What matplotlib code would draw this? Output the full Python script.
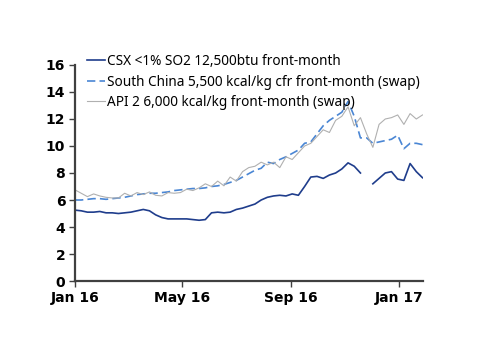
import pandas as pd
import numpy as np
import matplotlib
matplotlib.use("Agg")
import matplotlib.pyplot as plt
import matplotlib.dates as mdates

# weekly observations, Jan 2016 - end Jan 2017 (USD/mmbtu)
dates = pd.date_range("2016-01-01", periods=57, freq="7D")

csx = [5.25, 5.2, 5.1, 5.1, 5.15, 5.05, 5.05, 5.0, 5.05, 5.1,
       5.2, 5.3, 5.2, 4.9, 4.7, 4.6, 4.6, 4.6, 4.6, 4.55,
       4.5, 4.55, 5.05, 5.1, 5.05, 5.1, 5.3, 5.4, 5.55, 5.7,
       6.0, 6.2, 6.3, 6.35, 6.3, 6.45, 6.35, 7.0, 7.7, 7.75,
       7.6, 7.85, 8.0, 8.3, 8.75, 8.5, 8.0, np.nan, 7.2, 7.6,
       8.0, 8.1, 7.55, 7.45, 8.7, 8.1, 7.65]

south_china = [6.0, 6.0, 6.05, 6.1, 6.1, 6.05, 6.1, 6.15, 6.2, 6.3,
               6.4, 6.45, 6.5, 6.5, 6.55, 6.6, 6.7, 6.75, 6.8, 6.85,
               6.85, 6.9, 7.0, 7.05, 7.15, 7.3, 7.45, 7.7, 7.95, 8.2,
               8.35, 8.8, 8.7, 9.0, 9.2, 9.45, 9.7, 10.2, 10.3, 10.9,
               11.5, 11.9, 12.2, 12.5, 13.3, 12.2, 10.6, 10.6, 10.2, 10.3,
               10.4, 10.5, 10.8, 9.8, 10.2, 10.2, 10.1]

api2 = [6.75, 6.5, 6.25, 6.45, 6.3, 6.2, 6.15, 6.15, 6.5, 6.3,
        6.55, 6.4, 6.6, 6.35, 6.3, 6.55, 6.5, 6.55, 6.8, 6.7,
        6.9, 7.2, 7.0, 7.4, 7.05, 7.7, 7.4, 8.1, 8.4, 8.5,
        8.8, 8.6, 8.8, 8.4, 9.2, 9.0, 9.5, 10.0, 10.2, 10.7,
        11.2, 11.0, 11.9, 12.2, 12.9, 11.5, 12.1, 10.9, 9.9, 11.6,
        12.0, 12.1, 12.3, 11.6, 12.4, 12.0, 12.3]

labels = ["CSX <1% SO2 12,500btu front-month",
          "South China 5,500 kcal/kg cfr front-month (swap)",
          "API 2 6,000 kcal/kg front-month (swap)"]

df = pd.DataFrame({"csx": csx, "sc": south_china, "api2": api2}, index=dates)

fig = plt.figure(figsize=(5, 3.54), dpi=100)
ax = fig.add_axes([0.15, 0.2062, 0.695, 0.6102])

ax.plot(df.index, df["csx"], color="#1f3d8c", lw=1.2, label=labels[0])
ax.plot(df.index, df["sc"], color="#4a86d4", lw=1.2, ls=(0, (5, 2.5)), label=labels[1])
ax.plot(df.index, df["api2"], color="#b0b0b0", lw=0.8, label=labels[2])

ax.set_ylim(0, 16)
ax.set_yticks(range(0, 17, 2))
ax.set_xlim(pd.Timestamp("2016-01-01"), dates[-1])
ax.set_xticks(pd.to_datetime(["2016-01-01", "2016-05-01", "2016-09-01", "2017-01-01"]))
ax.xaxis.set_major_formatter(mdates.DateFormatter("%b %y"))

for s in ["top", "right"]:
    ax.spines[s].set_visible(False)
for s in ["left", "bottom"]:
    ax.spines[s].set_color("#404040")
    ax.spines[s].set_linewidth(1.6)
ax.tick_params(axis="both", direction="out", length=4, width=1, color="#404040",
               labelsize=10, pad=3)
for lab in ax.get_xticklabels() + ax.get_yticklabels():
    lab.set_fontweight("bold")

fig.legend(loc="upper left", bbox_to_anchor=(0.174, 0.847), frameon=False,
           prop={"family": "Noto Sans", "size": 9.8}, handlelength=1.3,
           handletextpad=0.15, labelspacing=0.4, borderpad=0, borderaxespad=0)

fig.savefig("out.png", dpi=100)
